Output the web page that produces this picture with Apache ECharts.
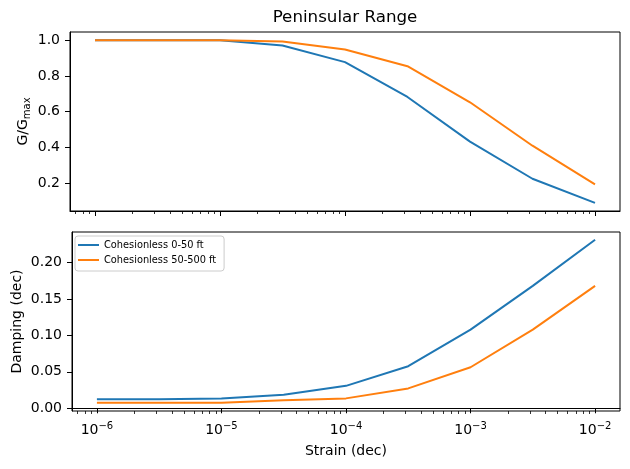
<!DOCTYPE html>
<html>
<head>
<meta charset="utf-8">
<script src="https://cdn.jsdelivr.net/npm/echarts@6/dist/echarts.min.js"></script>
<style>
  html, body { margin: 0; padding: 0; background: #fff; }
  #chart { width: 630px; height: 469px; }
</style>
</head>
<body>
<div id="chart"></div>
<script>
// strain (dec) where the curves are given
const strain = [1e-6, 3.16e-6, 1e-5, 3.16e-5, 1e-4, 3.16e-4, 1e-3, 3.16e-3, 1e-2]
// G/Gmax
const ggmaxShallow = [1.0, 1.0, 1.0, 0.970, 0.877, 0.682, 0.432, 0.224, 0.089]
const ggmaxDeep = [1.0, 1.0, 1.0, 0.993, 0.948, 0.854, 0.652, 0.409, 0.192]
// damping (dec)
const dampShallow = [0.0123, 0.0125, 0.0136, 0.0186, 0.0308, 0.0577, 0.1078, 0.1678, 0.231]
const dampDeep = [0.0076, 0.0076, 0.0076, 0.0109, 0.0136, 0.0273, 0.0563, 0.1078, 0.1678]

const seriesNames = ['Cohesionless 0-50 ft', 'Cohesionless 50-500 ft']
const xMajorTicks = [1e-6, 1e-5, 1e-4, 1e-3, 1e-2]
const ggTicks = [0.2, 0.4, 0.6, 0.8, 1.0]
const dampTicks = [0, 0.05, 0.10, 0.15, 0.20]

const xMin = Math.pow(10, -6.2)
const xMax = Math.pow(10, -1.8)

// minor ticks 2..9 of every decade inside the range
let xMinorTicks = []
for (let e = -7; e <= -2; e++) {
  for (let k = 2; k <= 9; k++) {
    let v = k * Math.pow(10, e)
    if (v > xMin && v < xMax) xMinorTicks.push(v)
  }
}

const FONT = 'DejaVu Sans'
const BLUE = '#1f77b4'
const ORANGE = '#ff7f0e'

function pair (xs, ys) {
  return xs.map((x, i) => [x, ys[i]])
}

function supLabel (v) {
  let e = Math.round(Math.log10(v))
  return '10{sup|' + (e < 0 ? '\u2212' : '') + Math.abs(e) + '}'
}

function xAxisPair (gridIndex, withLabels) {
  let major = {
    type: 'log',
    logBase: 10,
    gridIndex: gridIndex,
    position: 'bottom',
    min: xMin,
    max: xMax,
    axisLine: { show: true, lineStyle: { color: '#000', width: 1 } },
    axisTick: { show: true, length: 5, lineStyle: { color: '#000', width: 1 }, customValues: xMajorTicks },
    splitLine: { show: false },
    minorTick: { show: false },
    axisLabel: {
      show: withLabels,
      customValues: xMajorTicks,
      margin: 10,
      formatter: supLabel,
      rich: {
        sup: { fontFamily: FONT, fontSize: 10, lineHeight: 10, verticalAlign: 'top', color: '#000' }
      },
      fontFamily: FONT,
      fontSize: 14,
      lineHeight: 18,
      color: '#000'
    }
  }
  if (withLabels) {
    major.name = 'Strain (dec)'
    major.nameLocation = 'middle'
    major.nameGap = 33
    major.nameTextStyle = { fontFamily: FONT, fontSize: 14, color: '#000' }
  }
  let minor = {
    type: 'log',
    logBase: 10,
    gridIndex: gridIndex,
    position: 'bottom',
    min: xMin,
    max: xMax,
    axisLine: { show: false },
    axisTick: { show: true, length: 3, lineStyle: { color: '#000', width: 0.8 }, customValues: xMinorTicks },
    splitLine: { show: false },
    axisLabel: { show: false }
  }
  return [major, minor]
}

function yAxis (gridIndex, min, max, ticks, digits, name, nameGap) {
  return {
    type: 'value',
    gridIndex: gridIndex,
    min: min,
    max: max,
    name: name,
    nameLocation: 'middle',
    nameGap: nameGap,
    nameRotate: 90,
    nameMoveOverlap: false,
    nameTextStyle: {
      fontFamily: FONT,
      fontSize: 14,
      lineHeight: 18,
      color: '#000',
      rich: {
        sub: { fontFamily: FONT, fontSize: 10, lineHeight: 10, verticalAlign: 'bottom', color: '#000' }
      }
    },
    axisLine: { show: true, lineStyle: { color: '#000', width: 1 } },
    axisTick: { show: true, length: 5, lineStyle: { color: '#000', width: 1 }, customValues: ticks },
    splitLine: { show: false },
    axisLabel: {
      customValues: ticks,
      margin: 10,
      fontFamily: FONT,
      fontSize: 14,
      color: '#000',
      formatter: v => v.toFixed(digits)
    }
  }
}

function line (name, xIdx, yIdx, data, color) {
  return {
    name: name,
    type: 'line',
    xAxisIndex: xIdx,
    yAxisIndex: yIdx,
    data: data,
    symbol: 'none',
    smooth: false,
    animation: false,
    color: color,
    lineStyle: { color: color, width: 2 }
  }
}

let chart = echarts.init(document.getElementById('chart'), null, { renderer: 'canvas' })

let option = {
  backgroundColor: '#fff',
  animation: false,
  title: {
    text: 'Peninsular Range',
    left: 345,
    top: 9,
    textAlign: 'center',
    padding: 0,
    textStyle: { fontFamily: FONT, fontSize: 16.7, fontWeight: 'normal', color: '#000' }
  },
  legend: {
    data: seriesNames,
    orient: 'vertical',
    left: 75,
    top: 236,
    icon: 'rect',
    itemWidth: 21,
    itemHeight: 2,
    itemGap: 3,
    padding: [3, 8, 5, 3],
    backgroundColor: 'rgba(255,255,255,0.8)',
    borderColor: '#cccccc',
    borderWidth: 1,
    borderRadius: 3,
    textStyle: { fontFamily: FONT, fontSize: 9.8, lineHeight: 12, color: '#000' }
  },
  grid: [
    { left: 70, top: 32, width: 550, height: 179, show: true, borderColor: '#000', borderWidth: 1, backgroundColor: 'transparent' },
    { left: 70, top: 232, width: 550, height: 179, show: true, borderColor: '#000', borderWidth: 1, backgroundColor: 'transparent' }
  ],
  xAxis: xAxisPair(0, false).concat(xAxisPair(1, true)),
  yAxis: [
    yAxis(0, 0.0434, 1.0456, ggTicks, 1, 'G/G{sub|max}', 38),
    yAxis(1, -0.0037, 0.2417, dampTicks, 2, 'Damping (dec)', 46)
  ],
  series: [
    line(seriesNames[0], 0, 0, pair(strain, ggmaxShallow), BLUE),
    line(seriesNames[1], 0, 0, pair(strain, ggmaxDeep), ORANGE),
    line(seriesNames[0], 2, 1, pair(strain, dampShallow), BLUE),
    line(seriesNames[1], 2, 1, pair(strain, dampDeep), ORANGE)
  ]
}

chart.setOption(option)
</script>
</body>
</html>
